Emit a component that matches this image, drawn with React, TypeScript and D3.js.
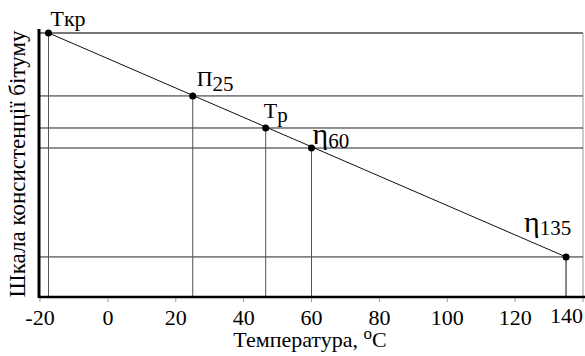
import React from "react";
import * as d3 from "d3";

const pointNames = ["Tкр", "П25", "Tр", "η60", "η135"];
const temperatures = [-17.5, 25, 46.5, 60, 135];
const consistency = [9.89, 7.53, 6.33, 5.58, 1.5];
const xTicks = [-20, 0, 20, 40, 60, 80, 100, 120, 140];

const W = 585;
const H = 356;
const FONT = "'Liberation Serif'";

export default function App() {
  const x = d3.scaleLinear().domain([-20, 140]).range([40, 583]);
  const y = d3.scaleLinear().domain([0, 10]).range([297, 30]);
  const left = 39;
  const right = 583;
  const bottom = 297;

  const pts = temperatures.map((t, i) => ({ t, c: consistency[i], name: pointNames[i] }));
  const line = d3
    .line<{ t: number; c: number }>()
    .x((d) => x(d.t))
    .y((d) => y(d.c));
  const ends = [pts[0], pts[pts.length - 1]];

  const labelFor = (name: string, px: number, py: number) => {
    if (name === "Tкр")
      return (
        <text x={px + 2} y={py - 7} fontSize={22} fontFamily={FONT}>
          Tкр
        </text>
      );
    if (name === "П25")
      return (
        <text x={px + 4} y={py - 10} fontSize={22} fontFamily={FONT}>
          П<tspan dy={5} fontSize={21}>25</tspan>
        </text>
      );
    if (name === "Tр")
      return (
        <text x={px - 2} y={py - 10} fontSize={22} fontFamily={FONT}>
          T<tspan dy={4} fontSize={21}>р</tspan>
        </text>
      );
    if (name === "η60")
      return (
        <text x={px + 1} y={py - 4} fontSize={30} fontFamily={FONT}>
          η<tspan dy={4} fontSize={21}>60</tspan>
        </text>
      );
    return (
      <text x={px - 42} y={py - 25} fontSize={30} fontFamily={FONT}>
        η<tspan dy={3} fontSize={21}>135</tspan>
      </text>
    );
  };

  return (
    <svg width={W} height={H} style={{ position: "absolute", left: 0, top: 0 }}>
      <rect width={W} height={H} fill="#fff" />
      <line x1={right} x2={right} y1={y(consistency[0])} y2={bottom} stroke="#bbb" strokeWidth={1.5} />
      {pts.map((p, i) => (
        <line
          key={"h" + i}
          x1={left}
          x2={right}
          y1={y(p.c)}
          y2={y(p.c)}
          stroke={i === 0 ? "#777" : "#222"}
          strokeWidth={i === 0 ? 2 : 1}
        />
      ))}
      {pts.map((p, i) => (
        <line
          key={"v" + i}
          x1={x(p.t)}
          x2={x(p.t)}
          y1={y(p.c)}
          y2={bottom}
          stroke={i === pts.length - 1 ? "#111" : "#555"}
          strokeWidth={1}
        />
      ))}
      <path d={line(ends) || ""} fill="none" stroke="#111" strokeWidth={1} />
      {pts.map((p, i) => (
        <circle key={"c" + i} cx={x(p.t)} cy={y(p.c)} r={3.5} fill="#000" />
      ))}
      {pts.map((p, i) => (
        <g key={"l" + i} fill="#000">
          {labelFor(p.name, x(p.t), y(p.c))}
        </g>
      ))}
      <line x1={left} x2={W} y1={bottom} y2={bottom} stroke="#000" strokeWidth={2.5} />
      <line x1={left} x2={left} y1={29} y2={bottom + 1} stroke="#000" strokeWidth={3} />
      {xTicks.map((t, i) => {
        const last = i === xTicks.length - 1;
        return (
          <g key={"t" + t}>
            <line x1={x(t)} x2={x(t)} y1={bottom + 1} y2={bottom + 5} stroke="#999" strokeWidth={1} />
            <text
              x={last ? W - 2 : x(t)}
              y={last ? 323 : 325}
              fontSize={22}
              fontFamily={FONT}
              textAnchor={last ? "end" : "middle"}
              fill="#000"
            >
              {t}
            </text>
          </g>
        );
      })}
      <text x={310} y={347} fontSize={22} fontFamily={FONT} textAnchor="middle" fill="#000">
        Температура, <tspan dy={-8} fontSize={17}>o</tspan>
        <tspan dy={8}>C</tspan>
      </text>
      <text
        transform={`translate(25, ${164}) rotate(-90)`}
        fontSize={23}
        fontFamily={FONT}
        textAnchor="middle"
        fill="#000"
      >
        Шкала консистенції бітуму
      </text>
    </svg>
  );
}
